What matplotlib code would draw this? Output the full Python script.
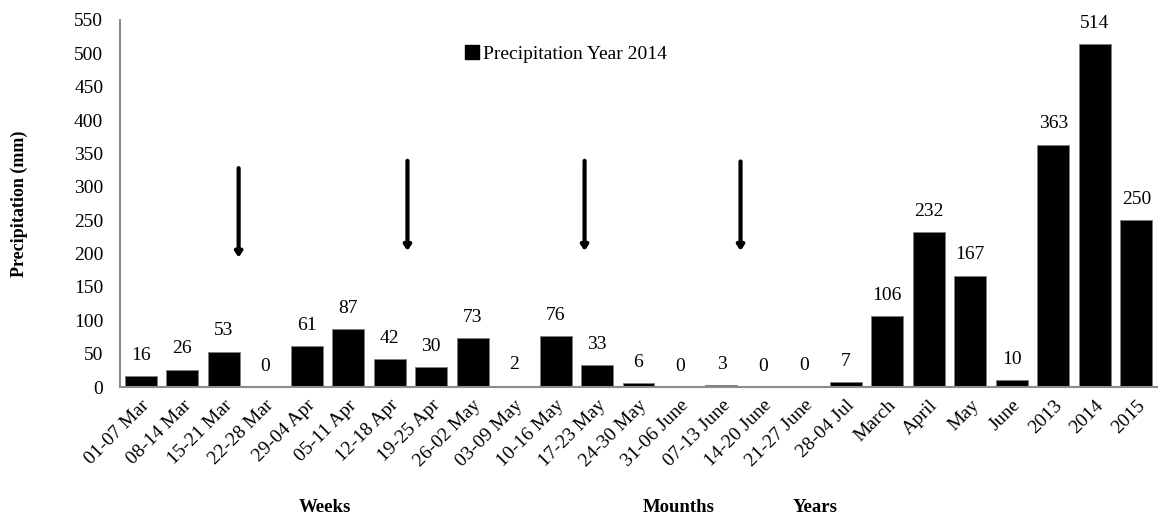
import matplotlib
matplotlib.use("Agg")
import matplotlib.pyplot as plt
from matplotlib.patches import Patch

categories = ["01-07 Mar", "08-14 Mar", "15-21 Mar", "22-28 Mar", "29-04 Apr",
              "05-11 Apr", "12-18 Apr", "19-25 Apr", "26-02 May", "03-09 May",
              "10-16 May", "17-23 May", "24-30 May", "31-06 June", "07-13 June",
              "14-20 June", "21-27 June", "28-04 Jul",
              "March", "April", "May", "June", "2013", "2014", "2015"]
values = [16, 26, 53, 0, 61, 87, 42, 30, 73, 2, 76, 33, 6, 0, 3, 0, 0.4, 7,
          106, 232, 167, 10, 363, 514, 250]
yticks = [0, 50, 100, 150, 200, 250, 300, 350, 400, 450, 500, 550]
arrow_x = [2.36, 6.43, 10.7, 14.46]
arrow_top = [328, 339, 339, 338]
arrow_tip = [194, 204, 204, 204]
group_labels = ["Weeks", "Mounths", "Years"]
group_x = [325, 679, 815]

plt.rcParams['font.family'] = ['Liberation Serif', 'DejaVu Serif']

fig = plt.figure(figsize=(11.6, 5.19), dpi=100)
ax = fig.add_axes([120/1160, 1-387/519, (1157-120)/1160, (387-20)/519])

x = list(range(len(categories)))
ax.bar(x, values, width=0.77, color='black', edgecolor='#7f7f7f', linewidth=0.6,
       label='Precipitation Year 2014')
for xi, v in zip(x, values):
    ax.annotate(f"{v:.0f}", (xi, v), xytext=(0, 15), textcoords='offset points',
                ha='center', va='center', fontsize=14)

ax.set_xlim(-0.5, len(categories) - 0.5)
ax.set_ylim(0, 550)
ax.set_yticks(yticks)
ax.set_yticklabels([str(t) for t in yticks], fontsize=14)
ax.set_xticks(x)
ax.set_xticklabels(categories, rotation=45, ha='right', rotation_mode='anchor', fontsize=14)
ax.tick_params(axis='y', length=0, pad=12)
ax.tick_params(axis='x', length=0, pad=7)
for s in ['top', 'right']:
    ax.spines[s].set_visible(False)
for s in ['left', 'bottom']:
    ax.spines[s].set_color('#8c8c8c')
    ax.spines[s].set_linewidth(1.5)

ax.set_ylabel("Precipitation (mm)", fontsize=13, fontweight='bold')
ax.yaxis.set_label_coords(-0.089, 0.5)

for ax_x, top, tip in zip(arrow_x, arrow_top, arrow_tip):
    ax.annotate("", xy=(ax_x, tip), xytext=(ax_x, top),
                arrowprops=dict(arrowstyle='-|>,head_length=0.3,head_width=0.2',
                                color='black', lw=3, shrinkA=0, shrinkB=0))

handles = [Patch(facecolor='black', edgecolor='black')]
ax.legend(handles, ['Precipitation Year 2014'], loc='center', bbox_to_anchor=(0.43, 0.907),
          frameon=False, fontsize=14, handlelength=0.7, handleheight=0.7,
          handletextpad=0.2)

for lab, gx in zip(group_labels, group_x):
    fig.text(gx/1160, 1-508/519, lab, ha='center', va='center', fontsize=13.5, fontweight='bold')

fig.savefig("out.png", dpi=100)
